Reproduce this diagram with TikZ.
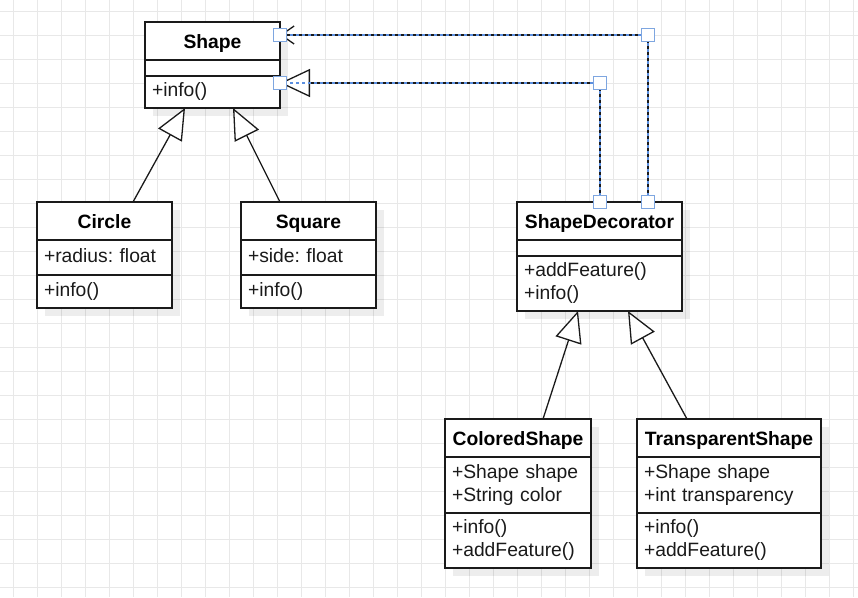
\documentclass[tikz,border=0pt]{standalone}
\usepackage{fontspec}
\setmainfont{Liberation Sans}
\usetikzlibrary{positioning, arrows.meta, calc, backgrounds}
\definecolor{ink}{HTML}{1a1a1a}
\definecolor{gridline}{HTML}{e8e8e8}
\definecolor{selblue}{HTML}{5b8fe0}
\definecolor{gripblue}{HTML}{7ea6e0}
\frenchspacing

\begin{document}
\begin{tikzpicture}[x=1pt, y=-1pt,
  font=\fontsize{19.3}{23}\selectfont,
  clshead/.style={draw=ink, fill=white, line width=1.3pt, outer sep=0pt, inner sep=0pt,
    anchor=north west, minimum height=38pt, text height=14pt, text depth=0pt,
    font=\fontsize{19.3}{23}\selectfont\bfseries},
  clspart/.style={draw=ink, fill=white, line width=1.3pt, outer sep=0pt, inner xsep=7pt,
    inner ysep=0pt, align=left, text width=#1, text=ink,
    execute at begin node=\strut, execute at end node=\strut},
  clsempty/.style={draw=ink, fill=white, line width=1.3pt, outer sep=0pt, inner sep=0pt,
    minimum height=16pt},
  clsshadow/.style={fill=black, opacity=0.07},
  gen/.style={draw=ink, line width=1.3pt, -{Triangle[fill=white, length=31pt, width=27pt]}},
  sel/.style={draw=ink, line width=1.3pt, postaction={draw=selblue, dash pattern=on 3pt off 3pt, -}},
  grip/.style={draw=gripblue, fill=white, line width=1.4pt, minimum size=13pt, inner sep=0pt}
]
  \useasboundingbox (0,0) rectangle (858,597);

  % classes
  \node[clshead, minimum width=135pt] (shape-head) at (145,22) {Shape};
  \node[clsempty, minimum width=135pt, below=0pt of shape-head] (shape-attr) {};
  \node[clspart=121pt, minimum height=32pt, below=0pt of shape-attr] (shape-ops) {+info()};

  \node[clshead, minimum width=135pt] (circle-head) at (37,202) {Circle};
  \node[clspart=121pt, minimum height=35pt, below=0pt of circle-head] (circle-attr) {+radius: float};
  \node[clspart=121pt, minimum height=33pt, below=0pt of circle-attr] (circle-ops) {+info()};

  \node[clshead, minimum width=135pt] (square-head) at (241,202) {Square};
  \node[clspart=121pt, minimum height=35pt, below=0pt of square-head] (square-attr) {+side: float};
  \node[clspart=121pt, minimum height=33pt, below=0pt of square-attr] (square-ops) {+info()};

  \node[clshead, minimum width=165pt] (deco-head) at (517,202) {ShapeDecorator};
  \node[clsempty, minimum width=165pt, below=0pt of deco-head] (deco-attr) {};
  \node[clspart=151pt, minimum height=55pt, below=0pt of deco-attr] (deco-ops) {+addFeature()\\+info()};

  \node[clshead, minimum width=146pt] (colored-head) at (445,419) {ColoredShape};
  \node[clspart=132pt, minimum height=56pt, below=0pt of colored-head] (colored-attr) {+Shape shape\\+String color};
  \node[clspart=132pt, minimum height=55pt, below=0pt of colored-attr] (colored-ops) {+info()\\+addFeature()};

  \node[clshead, minimum width=184pt] (transp-head) at (637,419) {TransparentShape};
  \node[clspart=170pt, minimum height=56pt, below=0pt of transp-head] (transp-attr) {+Shape shape\\+int transparency};
  \node[clspart=170pt, minimum height=55pt, below=0pt of transp-attr] (transp-ops) {+info()\\+addFeature()};

  % inheritance
  \draw[gen] ([xshift=28.5pt]circle-head.north) -- ([xshift=-27.5pt]shape-ops.south);
  \draw[gen] ([xshift=-28.5pt]square-head.north) -- ([xshift=20.5pt]shape-ops.south);
  \draw[gen] ([xshift=25pt]colored-head.north) -- ([xshift=-21.5pt]deco-ops.south);
  \draw[gen] ([xshift=-42pt]transp-head.north) -- ([xshift=28.5pt]deco-ops.south);

  % decorator links (selected)
  \coordinate (deco-left) at ([xshift=0.5pt]deco-head.north);
  \coordinate (deco-right) at ([xshift=48.5pt]deco-head.north);
  \coordinate (shape-in) at ([yshift=9pt]shape-ops.east);
  \coordinate (shape-ref) at ([yshift=6pt]shape-head.east);
  \draw[sel, -{Triangle[fill=white, length=30pt, width=28pt]}] (deco-left) |- (shape-in);
  \draw[sel, -{Straight Barb[length=13pt, width=18pt]}] (deco-right) |- (shape-ref);

  \foreach \p in {deco-left, deco-right, shape-in, shape-ref}
    \node[grip] (grip-\p) at (\p) {};
  \node[grip] (grip-bend-left) at (deco-left |- shape-in) {};
  \node[grip] (grip-bend-right) at (deco-right |- shape-ref) {};

  \begin{scope}[on background layer]
    \fill[white] (0,0) rectangle (858,597);
    \foreach \x in {13,37,...,853}
      \draw[gridline, line width=0.8pt] (\x,0) -- (\x,597);
    \foreach \y in {11,35,...,587}
      \draw[gridline, line width=0.8pt] (0,\y) -- (858,\y);
    \foreach \c in {shape, circle, square, deco, colored, transp}
      \fill[clsshadow] ($(\c-head.north west)+(8,8)$) rectangle ($(\c-ops.south east)+(8,8)$);
  \end{scope}
\end{tikzpicture}
\end{document}
